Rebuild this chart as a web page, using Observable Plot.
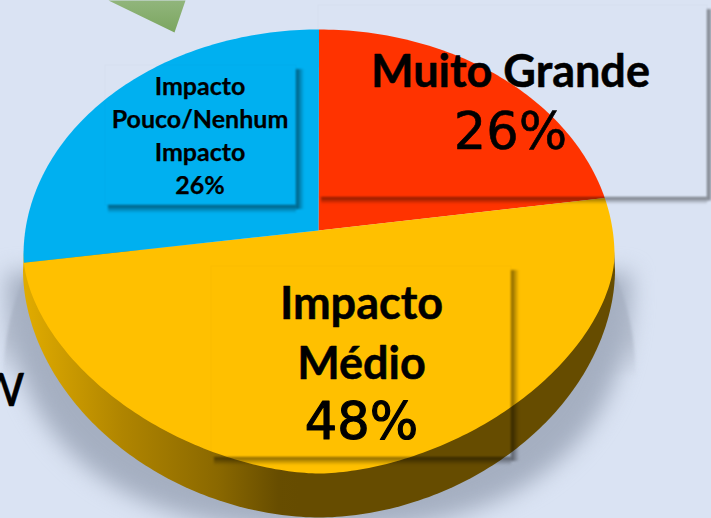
<!DOCTYPE html>
<html><head><meta charset="utf-8">
<script src="https://cdn.jsdelivr.net/npm/d3@7"></script>
<script src="https://cdn.jsdelivr.net/npm/@observablehq/plot@0.6"></script>
<style>
html,body{margin:0;padding:0;background:#dae3f3;overflow:hidden}
svg{display:block}
</style></head><body>
<script>
// slices, clockwise from 12 o'clock
const categories = ["Muito Grande", "Impacto Médio", "Impacto Pouco/Nenhum"];
const labelledPercent = [26, 48, 26];          // printed in the labels
const drawnShare = [20.9, 53.3, 25.8];         // sweep of each slice
const sliceColors = ["#ff3300", "#ffc000", "#00b0f0"];

// page-space domain
const W = 711, H = 518;
const top_ = {cx: 318.5, cy: 255, a: 295.5, bUp: 226, bLow: 218, pLow: 1.75};
const apex = {x: 318, y: 230};
const rim = {cx: 318.5, cy: 270, a: 296, b: 247, p: 1.9};

const spow = (v, e) => Math.sign(v) * Math.abs(v) ** e;
function topPoint(t) {
  const s = Math.sin(t), c = Math.cos(t);
  return c >= 0
    ? {x: top_.cx + top_.a * s, y: top_.cy - top_.bUp * c}
    : {x: top_.cx + top_.a * spow(s, 2 / top_.pLow), y: top_.cy - top_.bLow * spow(c, 2 / top_.pLow)};
}
const pieGen = d3.pie().sort(null);
const wedges = pieGen(drawnShare).map(a => {
  const n = Math.ceil((a.endAngle - a.startAngle) * 60);
  const arc = d3.range(n + 1).map(i => topPoint(a.startAngle + (a.endAngle - a.startAngle) * i / n));
  return [apex, ...arc];
});

// side wall: lower half of the rim curve, closed along the top face
const lowerT = d3.range(90, 271, 1).map(d => d * Math.PI / 180);
const rimPts = lowerT.map(t => ({
  x: rim.cx + rim.a * spow(Math.sin(t), 2 / rim.p),
  y: rim.cy - rim.b * spow(Math.cos(t), 2 / rim.p)
}));
const sidePts = [{x: rim.cx + rim.a - 1, y: 250}, ...rimPts, {x: rim.cx - rim.a + 1, y: 250}];

// cast shadow
const glow = lowerT.map(t => ({
  x: 318.5 + 312 * spow(Math.sin(t), 2 / 2.4),
  y: 272 - 258 * spow(Math.cos(t), 2 / 2.4)
}));
const fanUp = d3.range(62, 90.5, 2).map(d => d * Math.PI / 180);
const fanRight = fanUp.map(t => ({x: 319 + 316 * Math.sin(t), y: 375 - 285 * Math.cos(t)}));
const fanLeft = fanRight.map(p => ({x: 638 - p.x, y: p.y + 3})).reverse();
const fanPts = [...fanRight, ...fanLeft];

// read-off annotation rectangles and the clipped green pointer
const boxX1 = [318, 105, 211], boxX2 = [707, 296, 511];
const boxY1 = [5, 65, 266], boxY2 = [197, 205, 457];
const shadowDepth = [7, 8, 8];
const boxes = boxX1.map((x1, i) => ({x1, x2: boxX2[i], y1: boxY1[i], y2: boxY2[i], d: shadowDepth[i]}));
const pointerX = [108, 185, 174], pointerY = [0, 0, 32];
const pointer = pointerX.map((x, i) => ({x, y: pointerY[i]}));

const textRows = [
  {t: categories[0], x: 510, y: 86, s: 45, f: "Lato", w: 700, k: 0.5},
  {t: labelledPercent[0] + "%", x: 510, y: 148, s: 51, f: "DejaVu Sans", w: 400, k: 0.6},
  {t: "Impacto", x: 199.5, y: 94, s: 25, f: "Lato", w: 700, k: 0.25},
  {t: "Pouco/Nenhum", x: 199.5, y: 127, s: 25, f: "Lato", w: 700, k: 0.25},
  {t: "Impacto", x: 199.5, y: 160, s: 25, f: "Lato", w: 700, k: 0.25},
  {t: labelledPercent[2] + "%", x: 199.5, y: 193, s: 25, f: "Lato", w: 700, k: 0.25},
  {t: "Impacto", x: 361, y: 318, s: 45, f: "Lato", w: 700, k: 0.5},
  {t: "Médio", x: 361, y: 378, s: 45, f: "Lato", w: 700, k: 0.5},
  {t: labelledPercent[1] + "%", x: 361, y: 438, s: 51, f: "DejaVu Sans", w: 400, k: 1.2}
];

const defs = () => {
  const d = d3.create("svg:defs");
  const lin = (id, attrs, stops) => {
    const g = d.append("linearGradient").attr("id", id);
    Object.entries(attrs).forEach(([k, v]) => g.attr(k, v));
    stops.forEach(([o, c, a]) => g.append("stop").attr("offset", o).attr("stop-color", c).attr("stop-opacity", a ?? 1));
  };
  lin("sideGrad", {gradientUnits: "userSpaceOnUse", x1: 25, x2: 300, y1: 0, y2: 0},
    [[0, "#e0ab00"], [0.35, "#b08500"], [0.7, "#8a6800"], [0.92, "#674d00"], [1, "#664c00"]]);
  lin("pointerGrad", {x1: 0, x2: 0, y1: 0, y2: 1}, [[0, "#91b57c"], [1, "#7ba65f"]]);
  lin("fanGrad", {x1: 0, x2: 0, y1: 0, y2: 1}, [[0, "#aeb6c6"], [0.7, "#bcc5d5"], [1, "#dae3f3"]]);
  lin("shR", {x1: 0, x2: 1, y1: 0, y2: 0}, [[0, "#000", 0.5], [1, "#000", 0]]);
  lin("shB", {x1: 0, x2: 0, y1: 0, y2: 1}, [[0, "#000", 0.5], [1, "#000", 0]]);
  return d.node();
};

const plot = Plot.plot({
  width: W, height: H, margin: 0,
  style: {background: "#dae3f3", overflow: "hidden"},
  x: {domain: [0, W], axis: null},
  y: {domain: [H, 0], axis: null},
  marks: [
    defs,
    Plot.line(pointer, {x: "x", y: "y", fill: "url(#pointerGrad)", stroke: "none"}),
    Plot.line(fanPts, {x: "x", y: "y", fill: "url(#fanGrad)", stroke: "none", imageFilter: "blur(1.5px)"}),
    Plot.line(glow, {x: "x", y: "y", fill: "#a5afc1", stroke: "none", imageFilter: "blur(11px)"}),
    Plot.line(sidePts, {x: "x", y: "y", fill: "url(#sideGrad)", stroke: "none"}),
    ...wedges.map((w, i) => Plot.line(w, {x: "x", y: "y", fill: sliceColors[i], stroke: "none"})),
    Plot.rect(boxes, {x1: "x2", x2: d => d.x2 + d.d, y1: d => d.y1 + 4, y2: d => d.y2 + d.d * 0.5, fill: "url(#shR)", imageFilter: "blur(0.8px)"}),
    Plot.rect(boxes, {x1: d => d.x1 + 3, x2: "x2", y1: "y2", y2: d => d.y2 + d.d, fill: "url(#shB)", imageFilter: "blur(0.8px)"}),
    Plot.rect(boxes, {x1: "x1", x2: "x2", y1: "y1", y2: "y2", fill: "none", stroke: "#000", strokeOpacity: 0.02}),
    Plot.text(["W"], {x: () => 24, y: () => 405, text: d => d, textAnchor: "end", lineAnchor: "bottom", fontFamily: "Lato", fontWeight: 500, fontSize: 46, fill: "#000", stroke: "#000", strokeWidth: 0.4}),
    ...textRows.map(r => Plot.text([r], {
      x: "x", y: "y", text: "t", textAnchor: "middle", lineAnchor: "bottom",
      fontFamily: r.f, fontWeight: r.w, fontSize: r.s, fill: "#000",
      stroke: r.k ? "#000" : "none", strokeWidth: r.k || 0
    }))
  ]
});
document.body.appendChild(plot);
</script>
</body></html>
